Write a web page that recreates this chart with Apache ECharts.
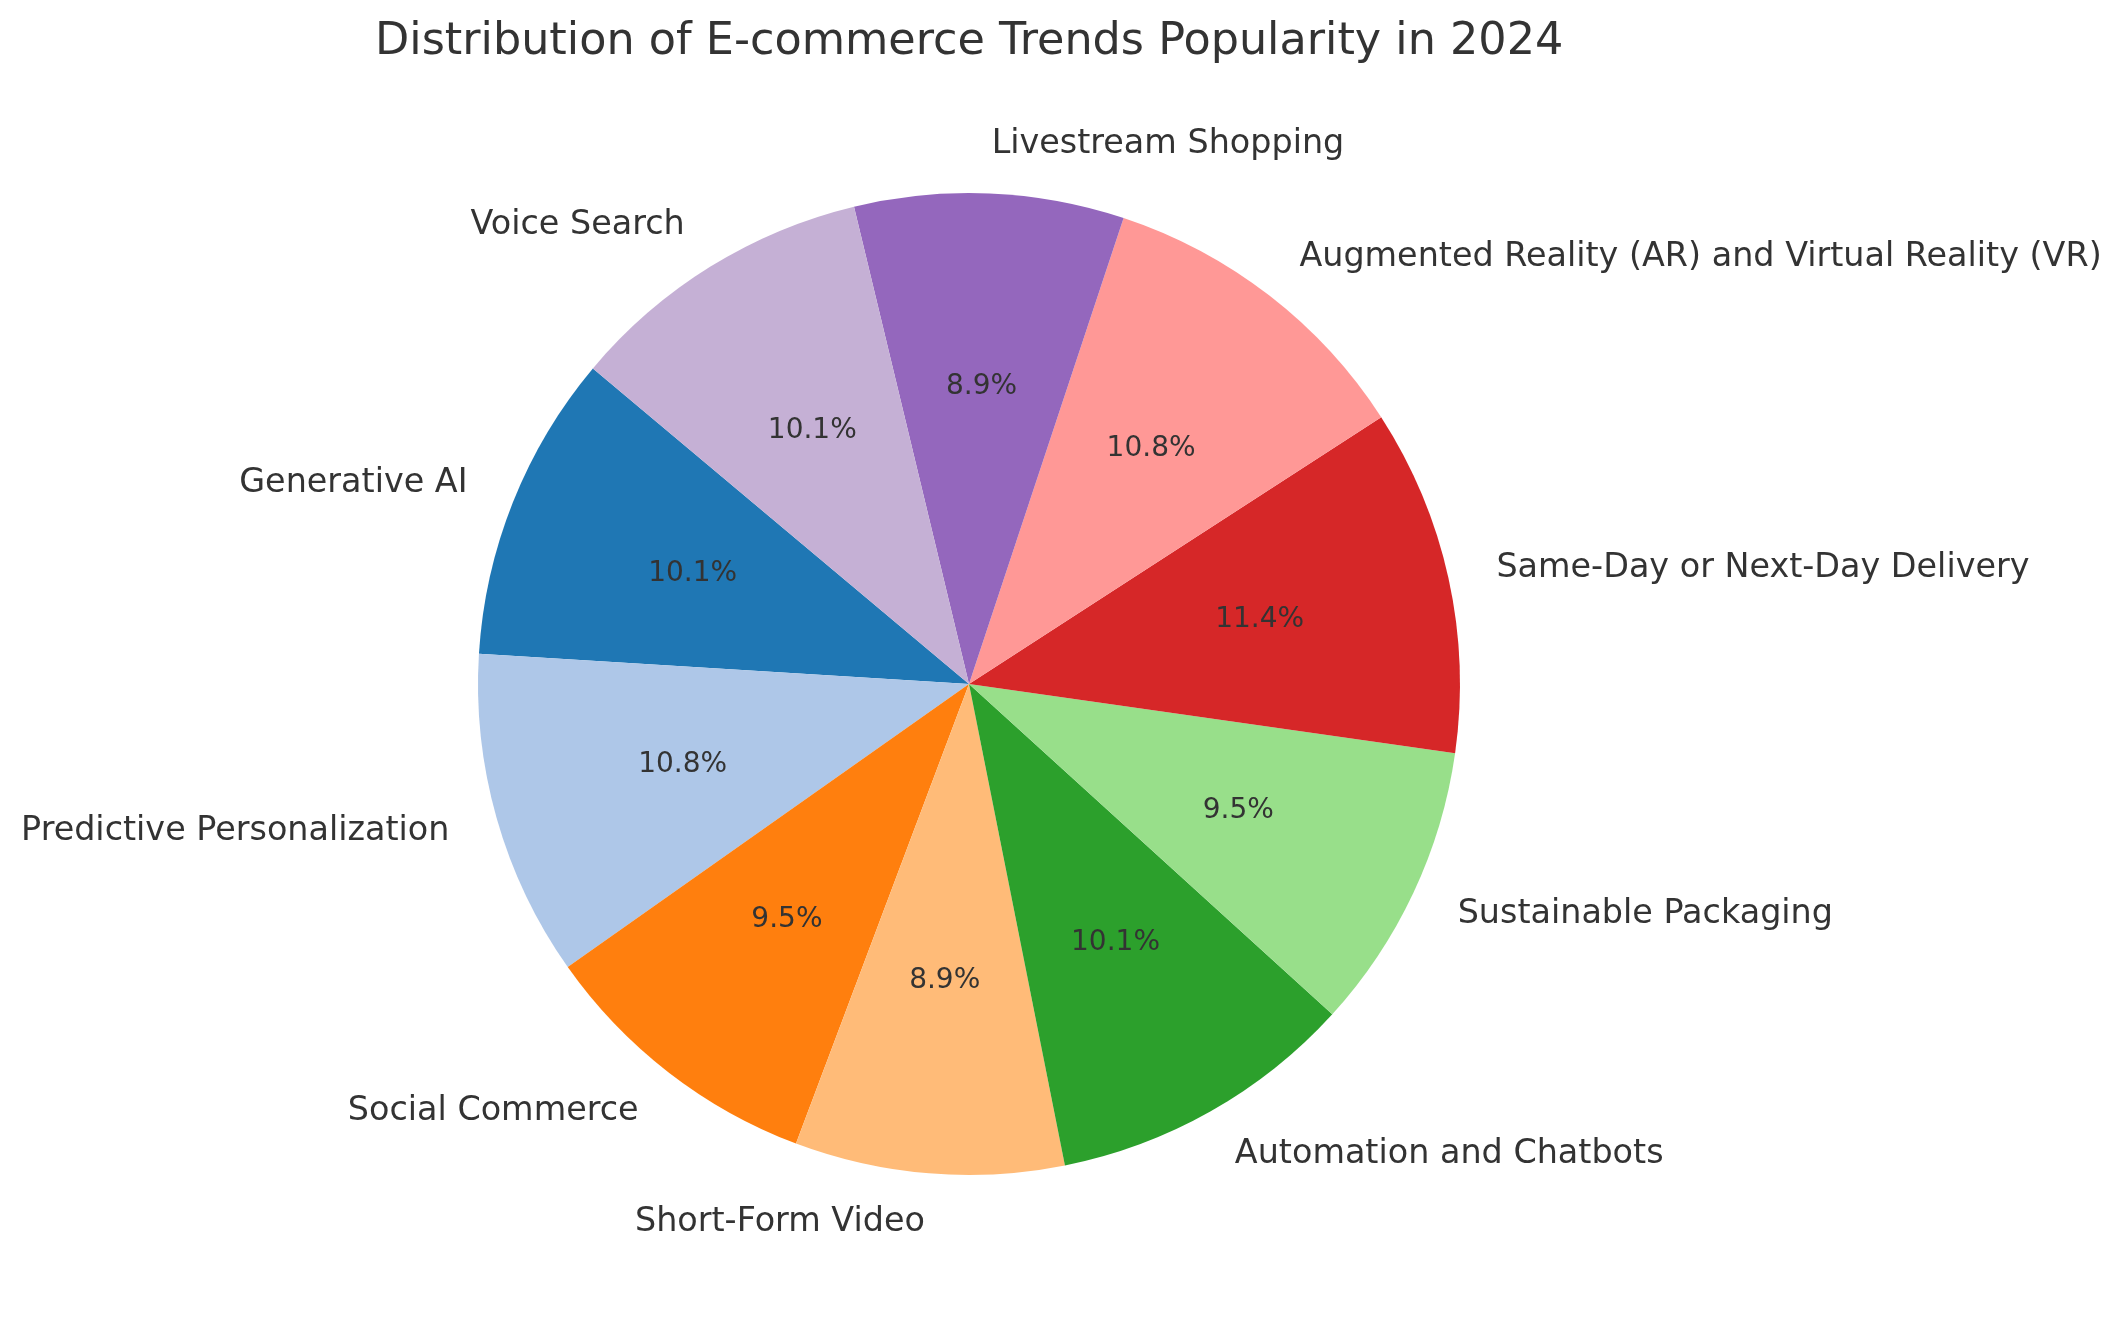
<!DOCTYPE html>
<html>
<head>
<meta charset="utf-8">
<script src="https://cdn.jsdelivr.net/npm/echarts@6/dist/echarts.min.js"></script>
<style>
  html, body { margin: 0; padding: 0; background: #fff; }
  #chart { width: 2122px; height: 1322px; }
</style>
</head>
<body>
<div id="chart"></div>
<script>
// 数据
const trends = [
  'Generative AI',
  'Predictive Personalization',
  'Social Commerce',
  'Short-Form Video',
  'Automation and Chatbots',
  'Sustainable Packaging',
  'Same-Day or Next-Day Delivery',
  'Augmented Reality (AR) and Virtual Reality (VR)',
  'Livestream Shopping',
  'Voice Search',
];
const popularity = [16, 17, 15, 14, 16, 15, 18, 17, 14, 16];
const colors = ['#1f77b4', '#aec7e8', '#ff7f0e', '#ffbb78', '#2ca02c',
  '#98df8a', '#d62728', '#ff9896', '#9467bd', '#c5b0d5'];

const center = [969, 684];
const radius = 491;
const total = popularity.reduce((a, b) => a + b, 0);

const pieData = trends.map((name, i) => ({
  name,
  value: popularity[i],
  itemStyle: { color: colors[i] },
}));

const chart = echarts.init(document.getElementById('chart'));
const option = {
  backgroundColor: '#fff',
  animation: false,
  title: {
    text: 'Distribution of E-commerce Trends Popularity in 2024',
    left: 370,
    top: 15,
    textStyle: {
      color: '#333',
      fontSize: 44.5,
      fontWeight: 'normal',
      fontFamily: 'DejaVu Sans',
    },
  },
  series: [
    {
      type: 'pie',
      center,
      radius,
      startAngle: 140,
      clockwise: false,
      avoidLabelOverlap: false,
      data: pieData,
      label: {
        show: true,
        position: 'outside',
        distanceToLabelLine: 0,
        color: '#333',
        fontSize: 33.4,
        fontFamily: 'DejaVu Sans',
      },
      labelLine: { show: false, length: 49, length2: 0 },
      emphasis: { disabled: true },
    },
    {
      // 百分比标签 (0.6r)，每块单独四舍五入
      type: 'pie',
      center,
      radius: [radius * 0.2, radius],
      startAngle: 140,
      clockwise: false,
      silent: true,
      data: pieData.map(d => ({ name: d.name, value: d.value, itemStyle: { color: 'rgba(0,0,0,0)' } })),
      label: {
        show: true,
        position: 'inside',
        formatter: p => (p.value / total * 100).toFixed(1) + '%',
        color: '#333',
        fontSize: 28,
        fontFamily: 'DejaVu Sans',
      },
      labelLine: { show: false },
      emphasis: { disabled: true },
    },
  ],
};
chart.setOption(option);
</script>
</body>
</html>
